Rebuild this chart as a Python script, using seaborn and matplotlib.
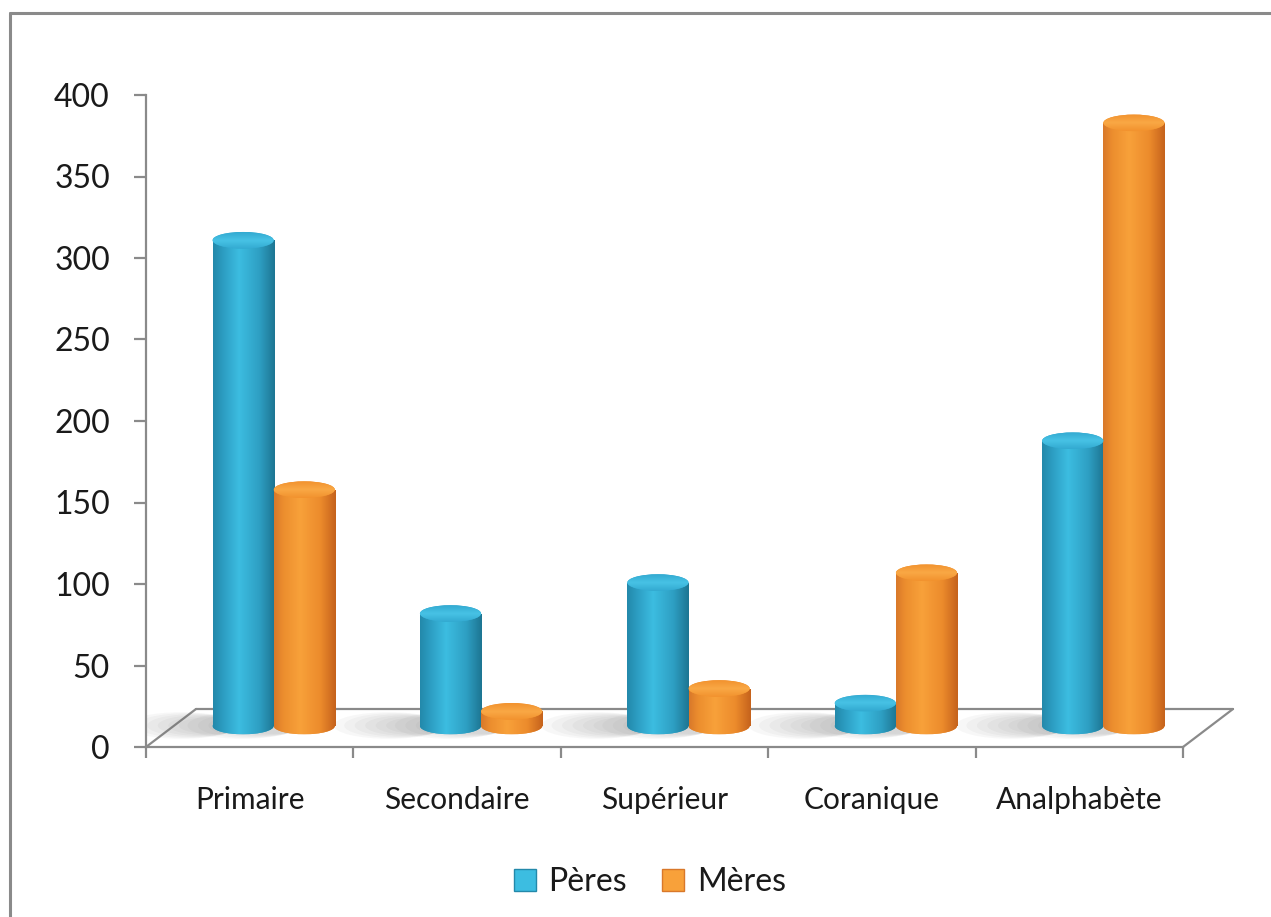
import numpy as np
import pandas as pd
import matplotlib
matplotlib.use("Agg")
import matplotlib.pyplot as plt
import seaborn as sns
import matplotlib.transforms as mtransforms
from matplotlib.patches import Ellipse, Rectangle, Patch
from matplotlib.lines import Line2D
from matplotlib.colors import LinearSegmentedColormap

# ---------------- data ----------------
categories = ["Primaire", "Secondaire", "Supérieur", "Coranique", "Analphabète"]
series = ["Pères", "Mères"]
peres = [298, 69, 88, 14, 175]
meres = [145, 9, 23, 94, 370]
yticks = [0, 50, 100, 150, 200, 250, 300, 350, 400]

df = pd.DataFrame({
    "Niveau": categories * 2,
    "Parent": [series[0]] * len(categories) + [series[1]] * len(categories),
    "Effectif": peres + meres,
})

# ---------------- style ----------------
sns.set_theme(style="white")
plt.rcParams["font.family"] = ["Lato", "DejaVu Sans"]

W, H = 1271, 917
DPI = 100
fig = plt.figure(figsize=(W / DPI, H / DPI), dpi=DPI)
fig.patch.set_facecolor("white")

x_left, x_right = 146, 1183
y_zero, y_top = 747, 95
ax = fig.add_axes([x_left / W, 1 - y_zero / H, (x_right - x_left) / W, (y_zero - y_top) / H])
ax.set_facecolor("none")

body = {"Pères": "#2EA3C7", "Mères": "#F08F2C"}
shades = {
    "Pères": ["#2389AA", "#2B9BC0", "#3CBDE1", "#2E9FC3", "#1D7592"],
    "Mères": ["#D9782A", "#EC8E2E", "#F8A13A", "#EC8B2C", "#C5621C"],
}
caps = {"Pères": ("#33AAD1", "#47C2E5"), "Mères": ("#F2922E", "#F9A845")}

sns.barplot(data=df, x="Niveau", y="Effectif", hue="Parent", order=categories,
            hue_order=series, palette=body, width=0.59, saturation=1,
            edgecolor="none", linewidth=0, legend=False, ax=ax)

ax.set_xlim(-0.5, len(categories) - 0.5)
ax.set_ylim(0, 400)

# perspective offset: columns sit half-way into the 3D floor
dx_px, dy_px = 24, 21
off = ax.transData + mtransforms.ScaledTranslation(dx_px / DPI, dy_px / DPI, fig.dpi_scale_trans)

px_per_unit = (y_zero - y_top) / 400.0
ell_h = 16.6 / px_per_unit  # ellipse height in data units

bars = [p for p in ax.patches if isinstance(p, Rectangle)]
grad = np.linspace(0, 1, 256).reshape(1, -1)
for i, p in enumerate(bars):
    name = series[0] if i < len(categories) else series[1]
    x0, w, h = p.get_x(), p.get_width(), p.get_height()
    xc = x0 + w / 2
    cmap = LinearSegmentedColormap.from_list(
        name + str(i), list(zip([0, 0.15, 0.42, 0.75, 1.0], shades[name])))
    p.set_transform(off)
    p.set_clip_on(False)
    p.set_zorder(3)
    # floor shadow (soft, falling to the left)
    for k in range(6):
        sh = Ellipse((x0 - 0.03 * k, 0.3), w * (1.1 + 0.14 * k), ell_h * (1.0 + 0.12 * k),
                     facecolor="#6E6E6E", edgecolor="none", alpha=0.05,
                     transform=off, zorder=1.5)
        ax.add_patch(sh)
    # bottom ellipse
    be = Ellipse((xc, 0), w, ell_h, facecolor=body[name], edgecolor="none",
                 transform=off, zorder=2.9, clip_on=False)
    ax.add_patch(be)
    im = ax.imshow(grad, cmap=cmap, extent=[x0, x0 + w, -ell_h / 2, 0],
                   aspect="auto", zorder=2.95, interpolation="bilinear")
    im.set_transform(off)
    im.set_clip_path(be)
    # body gradient
    im2 = ax.imshow(grad, cmap=cmap, extent=[x0, x0 + w, 0, h],
                    aspect="auto", zorder=3.1, interpolation="bilinear")
    im2.set_transform(off)
    im2.set_clip_path(p)
    # top cap
    c_lo, c_hi = caps[name]
    te = Ellipse((xc, h), w, ell_h, facecolor=c_lo, edgecolor="none",
                 transform=off, zorder=3.3, clip_on=False)
    ax.add_patch(te)
    capmap = LinearSegmentedColormap.from_list("cap" + str(i), [c_lo, c_hi, c_lo])
    im3 = ax.imshow(np.linspace(0, 1, 64).reshape(-1, 1), cmap=capmap,
                    extent=[x0, x0 + w, h - ell_h / 2, h + ell_h / 2],
                    aspect="auto", zorder=3.35, interpolation="bilinear")
    im3.set_transform(off)
    im3.set_clip_path(te)

ax.set_xlim(-0.5, len(categories) - 0.5)
ax.set_ylim(0, 400)

# ---------------- axes ----------------
grey = "#8A8A8A"
for s in ["top", "right"]:
    ax.spines[s].set_visible(False)
ax.spines["left"].set_color(grey)
ax.spines["left"].set_linewidth(1.6)
ax.spines["bottom"].set_color(grey)
ax.spines["bottom"].set_linewidth(1.6)

ax.set_yticks(yticks)
ax.set_yticklabels([str(v) for v in yticks], fontsize=23, color="#1A1A1A")
ax.tick_params(axis="y", which="major", direction="out", length=9, width=1.6,
               color=grey, pad=17, left=True)

bounds = np.arange(-0.5, len(categories), 1.0)
ax.set_xticks(bounds)
ax.set_xticklabels([""] * len(bounds))
ax.tick_params(axis="x", which="major", direction="out", length=8, width=1.6,
               color=grey, bottom=True)
ax.set_xticks(np.arange(len(categories)), minor=True)
ax.set_xticklabels(categories, minor=True, fontsize=21.5, color="#1A1A1A")
ax.tick_params(axis="x", which="minor", length=0, pad=28)
ax.set_xlabel("")
ax.set_ylabel("")

# 3D floor outline
fdx = 50 / (x_right - x_left)
fdy = 38 / (y_zero - y_top)
floor_kw = dict(color=grey, lw=1.6, transform=ax.transAxes, clip_on=False, zorder=1)
ax.add_line(Line2D([0, fdx], [0, fdy], **floor_kw))
ax.add_line(Line2D([fdx, 1 + fdx], [fdy, fdy], **floor_kw))
ax.add_line(Line2D([1, 1 + fdx], [0, fdy], **floor_kw))

# ---------------- legend ----------------
handles = [Patch(facecolor=shades[s][2], edgecolor=shades[s][0], label=s) for s in series]
fig.legend(handles=handles, loc="center", bbox_to_anchor=(650 / W, 1 - 882 / H),
           ncol=2, frameon=False, fontsize=23, handlelength=0.68, handleheight=0.68,
           handletextpad=0.4, columnspacing=1.1, labelcolor="#1A1A1A")

# chart border (cropped frame: left and top visible)
fig.add_artist(Line2D([10 / W, 10 / W], [0, 1 - 13 / H], color=grey, lw=2.2,
                      transform=fig.transFigure))
fig.add_artist(Line2D([10 / W, 1], [1 - 13 / H, 1 - 13 / H], color=grey, lw=2.2,
                      transform=fig.transFigure))

fig.savefig("out.png", dpi=DPI, facecolor="white")
